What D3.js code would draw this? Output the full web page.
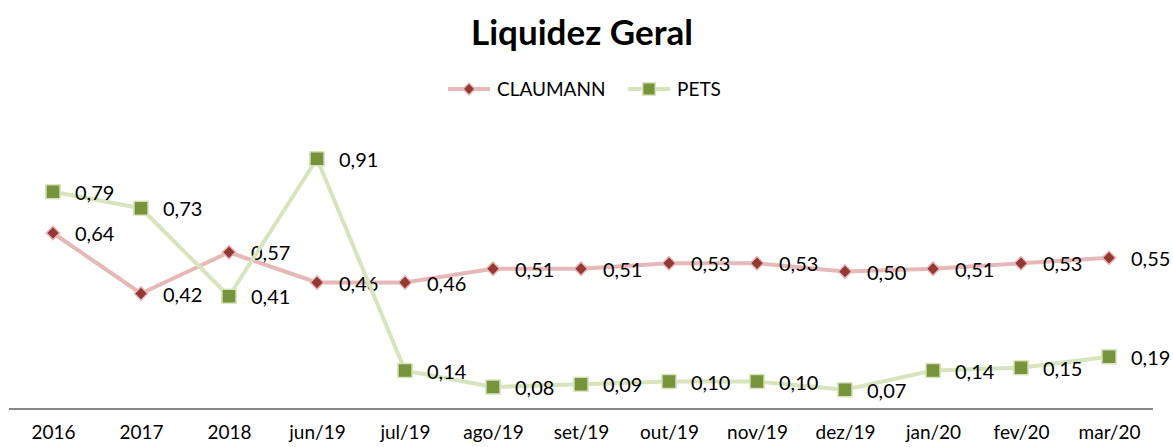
<!DOCTYPE html>
<html>
<head>
<meta charset="utf-8">
<script src="https://cdn.jsdelivr.net/npm/d3@7/dist/d3.min.js"></script>
<style>
  body { margin: 0; background: #fff; }
  text { font-family: Lato, "Open Sans", sans-serif; fill: #000; }
</style>
</head>
<body>
<div id="container"></div>
<script>
let width = 1173;
let height = 447;

let categories = ["2016", "2017", "2018", "jun/19", "jul/19", "ago/19", "set/19", "out/19", "nov/19", "dez/19", "jan/20", "fev/20", "mar/20"];
let claumann = [0.64, 0.42, 0.57, 0.46, 0.46, 0.51, 0.51, 0.53, 0.53, 0.50, 0.51, 0.53, 0.55];
let pets = [0.79, 0.73, 0.41, 0.91, 0.14, 0.08, 0.09, 0.10, 0.10, 0.07, 0.14, 0.15, 0.19];

let svg = d3.select("#container")
  .append("svg")
  .attr("width", width)
  .attr("height", height);

let x = d3.scalePoint()
  .domain(categories)
  .range([53, 1109]);

let y = d3.scaleLinear()
  .domain([0, 1])
  .range([409, 134]);

// title
svg.append("text")
  .attr("x", 582).attr("y", 45)
  .attr("text-anchor", "middle")
  .style("font-size", "35px")
  .style("font-weight", "bold")
  .text("Liquidez Geral");

// x axis
let xAxis = d3.axisBottom(x).tickSize(0).tickPadding(17);
let gx = svg.append("g")
  .attr("transform", "translate(0,409)")
  .call(xAxis);
gx.select(".domain").remove();
gx.selectAll("text").style("font-size", "19px").style("font-family", "Lato, sans-serif");
svg.append("line")
  .attr("x1", 9).attr("x2", 1153)
  .attr("y1", 409).attr("y2", 409)
  .attr("stroke", "#868686").attr("stroke-width", 2);

// diamond = square turned 45deg
let series = [
  { name: "CLAUMANN", values: claumann, line: "#E6B9B8", fill: "#953735", rot: 45, size: 90 },
  { name: "PETS", values: pets, line: "#D7E4BD", fill: "#77933C", rot: 0, size: 200 }
];

let line = d3.line()
  .x((d, i) => x(categories[i]))
  .y(d => y(d));

series.forEach(function (s) {
  svg.append("path")
    .datum(s.values)
    .attr("d", line)
    .attr("fill", "none")
    .attr("stroke", s.line)
    .attr("stroke-width", 4)
    .attr("stroke-linejoin", "round");

  svg.selectAll(".m-" + s.name)
    .data(s.values)
    .enter().append("path")
    .attr("d", d3.symbol().type(d3.symbolSquare).size(s.size))
    .attr("transform", (d, i) => `translate(${x(categories[i])},${y(d)}) rotate(${s.rot})`)
    .attr("fill", s.fill)
    .attr("stroke", s.line)
    .attr("stroke-width", 1.5);

  svg.selectAll(".l-" + s.name)
    .data(s.values)
    .enter().append("text")
    .attr("x", (d, i) => x(categories[i]) + 22)
    .attr("y", d => y(d) + 8)
    .style("font-size", "20px")
    .text(d => d.toFixed(2).replace(".", ","));
});

// legend
let legend = [
  { s: series[0], x: 448, tx: 497 },
  { s: series[1], x: 628, tx: 677 }
];
legend.forEach(function (l) {
  svg.append("line")
    .attr("x1", l.x).attr("x2", l.x + 42)
    .attr("y1", 89).attr("y2", 89)
    .attr("stroke", l.s.line).attr("stroke-width", 4);
  svg.append("path")
    .attr("d", d3.symbol().type(d3.symbolSquare).size(l.s.size * 0.8))
    .attr("transform", `translate(${l.x + 21},89) rotate(${l.s.rot})`)
    .attr("fill", l.s.fill)
    .attr("stroke", l.s.line)
    .attr("stroke-width", 1.5);
  svg.append("text")
    .attr("x", l.tx).attr("y", 96)
    .style("font-size", "19px")
    .text(l.s.name);
});
</script>
</body>
</html>
